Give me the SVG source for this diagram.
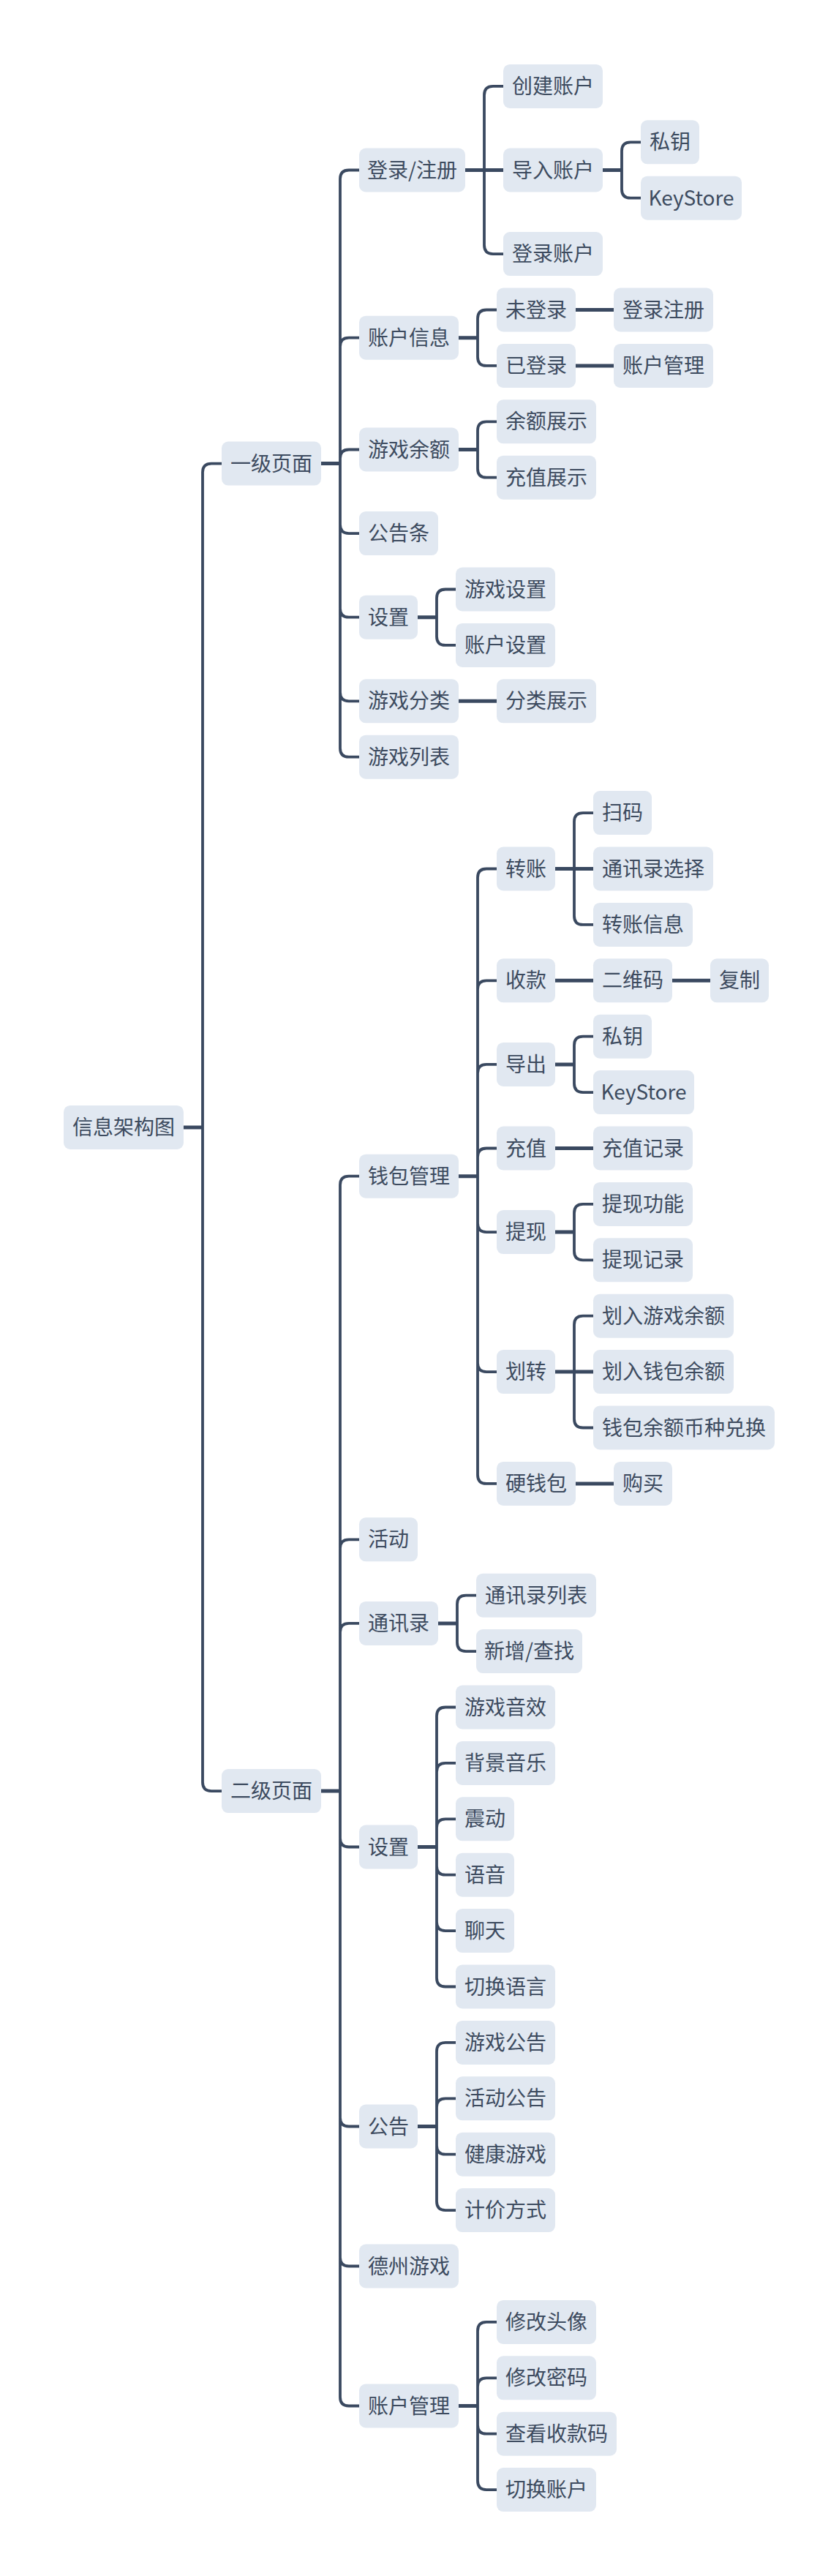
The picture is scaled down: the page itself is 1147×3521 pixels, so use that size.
<svg xmlns="http://www.w3.org/2000/svg" width="1147" height="3521" viewBox="0 0 1147 3521">
<style>
rect{fill:#e1e8f1;}
text{font-family:"Noto Sans CJK SC","Noto Sans",sans-serif;font-size:28px;fill:#3d4b5f;text-anchor:middle;}
.c{fill:none;stroke:#3a4960;stroke-width:3.8;stroke-linecap:butt;}
.s{fill:none;stroke:#3a4960;stroke-width:5;}
</style>
<rect x="0" y="0" width="1147" height="3521" style="fill:#ffffff"/>
<g id="connectors">
<path class="s" d="M251,1540.9H277M439,633.6H465M636,232.5H662M662,232.5H688M824,232.5H850M627,461.7H653M787,423.5H839M787,499.9H839M627,614.5H653M571,843.7H597M627,958.3H679M439,2448.1H465M627,1607.7H653M759,1187.5H785M785,1187.5H811M759,1340.3H811M919,1340.3H971M759,1454.9H785M759,1569.5H811M759,1684.1H785M759,1875.1H785M785,1875.1H811M787,2027.9H839M599,2218.9H625M571,2524.5H597M571,2906.5H597M627,3288.5H653"/>
<path class="c" d="M277,1540.9V645.6Q277,633.6 289,633.6H303M277,1540.9V2436.1Q277,2448.1 289,2448.1H303"/>
<path class="c" d="M465,633.6V244.5Q465,232.5 477,232.5H491M465,633.6V473.7Q465,461.7 477,461.7H491M465,633.6V626.5Q465,614.5 477,614.5H491M465,633.6V717.1Q465,729.1 477,729.1H491M465,633.6V831.7Q465,843.7 477,843.7H491M465,633.6V946.3Q465,958.3 477,958.3H491M465,633.6V1022.7Q465,1034.7 477,1034.7H491"/>
<path class="c" d="M662,232.5V129.9Q662,117.9 674,117.9H688M662,232.5V335.1Q662,347.1 674,347.1H688"/>
<path class="c" d="M850,232.5V206.3Q850,194.3 862,194.3H876M850,232.5V258.7Q850,270.7 862,270.7H876"/>
<path class="c" d="M653,461.7V435.5Q653,423.5 665,423.5H679M653,461.7V487.9Q653,499.9 665,499.9H679"/>
<path class="c" d="M653,614.5V588.3Q653,576.3 665,576.3H679M653,614.5V640.7Q653,652.7 665,652.7H679"/>
<path class="c" d="M597,843.7V817.5Q597,805.5 609,805.5H623M597,843.7V869.9Q597,881.9 609,881.9H623"/>
<path class="c" d="M465,2448.1V1619.7Q465,1607.7 477,1607.7H491M465,2448.1V2116.3Q465,2104.3 477,2104.3H491M465,2448.1V2230.9Q465,2218.9 477,2218.9H491M465,2448.1V2512.5Q465,2524.5 477,2524.5H491M465,2448.1V2894.5Q465,2906.5 477,2906.5H491M465,2448.1V3085.5Q465,3097.5 477,3097.5H491M465,2448.1V3276.5Q465,3288.5 477,3288.5H491"/>
<path class="c" d="M653,1607.7V1199.5Q653,1187.5 665,1187.5H679M653,1607.7V1352.3Q653,1340.3 665,1340.3H679M653,1607.7V1466.9Q653,1454.9 665,1454.9H679M653,1607.7V1581.5Q653,1569.5 665,1569.5H679M653,1607.7V1672.1Q653,1684.1 665,1684.1H679M653,1607.7V1863.1Q653,1875.1 665,1875.1H679M653,1607.7V2015.9Q653,2027.9 665,2027.9H679"/>
<path class="c" d="M785,1187.5V1123.1Q785,1111.1 797,1111.1H811M785,1187.5V1251.9Q785,1263.9 797,1263.9H811"/>
<path class="c" d="M785,1454.9V1428.7Q785,1416.7 797,1416.7H811M785,1454.9V1481.1Q785,1493.1 797,1493.1H811"/>
<path class="c" d="M785,1684.1V1657.9Q785,1645.9 797,1645.9H811M785,1684.1V1710.3Q785,1722.3 797,1722.3H811"/>
<path class="c" d="M785,1875.1V1810.7Q785,1798.7 797,1798.7H811M785,1875.1V1939.5Q785,1951.5 797,1951.5H811"/>
<path class="c" d="M625,2218.9V2192.7Q625,2180.7 637,2180.7H651M625,2218.9V2245.1Q625,2257.1 637,2257.1H651"/>
<path class="c" d="M597,2524.5V2345.5Q597,2333.5 609,2333.5H623M597,2524.5V2421.9Q597,2409.9 609,2409.9H623M597,2524.5V2498.3Q597,2486.3 609,2486.3H623M597,2524.5V2550.7Q597,2562.7 609,2562.7H623M597,2524.5V2627.1Q597,2639.1 609,2639.1H623M597,2524.5V2703.5Q597,2715.5 609,2715.5H623"/>
<path class="c" d="M597,2906.5V2803.9Q597,2791.9 609,2791.9H623M597,2906.5V2880.3Q597,2868.3 609,2868.3H623M597,2906.5V2932.7Q597,2944.7 609,2944.7H623M597,2906.5V3009.1Q597,3021.1 609,3021.1H623"/>
<path class="c" d="M653,3288.5V3185.9Q653,3173.9 665,3173.9H679M653,3288.5V3262.3Q653,3250.3 665,3250.3H679M653,3288.5V3314.7Q653,3326.7 665,3326.7H679M653,3288.5V3391.1Q653,3403.1 665,3403.1H679"/>
</g>
<g id="root"><rect x="87" y="1510.9" width="164" height="60" rx="9"/><text x="169" y="1550.9">信息架构图</text></g>
<g id="l1a"><rect x="303" y="603.6" width="136" height="60" rx="9"/><text x="371" y="643.6">一级页面</text></g>
<g id="l1b"><rect x="303" y="2418.1" width="136" height="60" rx="9"/><text x="371" y="2458.1">二级页面</text></g>
<g id="a1"><rect x="491" y="202.5" width="145" height="60" rx="9"/><text x="563.5" y="242.5">登录/注册</text></g>
<g id="a1-1"><rect x="688" y="87.9" width="136" height="60" rx="9"/><text x="756" y="127.9">创建账户</text></g>
<g id="a1-2"><rect x="688" y="202.5" width="136" height="60" rx="9"/><text x="756" y="242.5">导入账户</text></g>
<g id="a1-2-1"><rect x="876" y="164.3" width="80" height="60" rx="9"/><text x="916" y="204.3">私钥</text></g>
<g id="a1-2-2"><rect x="876" y="240.7" width="138" height="60" rx="9"/><text x="945" y="280.7">KeyStore</text></g>
<g id="a1-3"><rect x="688" y="317.1" width="136" height="60" rx="9"/><text x="756" y="357.1">登录账户</text></g>
<g id="a2"><rect x="491" y="431.7" width="136" height="60" rx="9"/><text x="559" y="471.7">账户信息</text></g>
<g id="a2-1"><rect x="679" y="393.5" width="108" height="60" rx="9"/><text x="733" y="433.5">未登录</text></g>
<g id="a2-1-1"><rect x="839" y="393.5" width="136" height="60" rx="9"/><text x="907" y="433.5">登录注册</text></g>
<g id="a2-2"><rect x="679" y="469.9" width="108" height="60" rx="9"/><text x="733" y="509.9">已登录</text></g>
<g id="a2-2-1"><rect x="839" y="469.9" width="136" height="60" rx="9"/><text x="907" y="509.9">账户管理</text></g>
<g id="a3"><rect x="491" y="584.5" width="136" height="60" rx="9"/><text x="559" y="624.5">游戏余额</text></g>
<g id="a3-1"><rect x="679" y="546.3" width="136" height="60" rx="9"/><text x="747" y="586.3">余额展示</text></g>
<g id="a3-2"><rect x="679" y="622.7" width="136" height="60" rx="9"/><text x="747" y="662.7">充值展示</text></g>
<g id="a4"><rect x="491" y="699.1" width="108" height="60" rx="9"/><text x="545" y="739.1">公告条</text></g>
<g id="a5"><rect x="491" y="813.7" width="80" height="60" rx="9"/><text x="531" y="853.7">设置</text></g>
<g id="a5-1"><rect x="623" y="775.5" width="136" height="60" rx="9"/><text x="691" y="815.5">游戏设置</text></g>
<g id="a5-2"><rect x="623" y="851.9" width="136" height="60" rx="9"/><text x="691" y="891.9">账户设置</text></g>
<g id="a6"><rect x="491" y="928.3" width="136" height="60" rx="9"/><text x="559" y="968.3">游戏分类</text></g>
<g id="a6-1"><rect x="679" y="928.3" width="136" height="60" rx="9"/><text x="747" y="968.3">分类展示</text></g>
<g id="a7"><rect x="491" y="1004.7" width="136" height="60" rx="9"/><text x="559" y="1044.7">游戏列表</text></g>
<g id="b1"><rect x="491" y="1577.7" width="136" height="60" rx="9"/><text x="559" y="1617.7">钱包管理</text></g>
<g id="b1-1"><rect x="679" y="1157.5" width="80" height="60" rx="9"/><text x="719" y="1197.5">转账</text></g>
<g id="b1-1-1"><rect x="811" y="1081.1" width="80" height="60" rx="9"/><text x="851" y="1121.1">扫码</text></g>
<g id="b1-1-2"><rect x="811" y="1157.5" width="164" height="60" rx="9"/><text x="893" y="1197.5">通讯录选择</text></g>
<g id="b1-1-3"><rect x="811" y="1233.9" width="136" height="60" rx="9"/><text x="879" y="1273.9">转账信息</text></g>
<g id="b1-2"><rect x="679" y="1310.3" width="80" height="60" rx="9"/><text x="719" y="1350.3">收款</text></g>
<g id="b1-2-1"><rect x="811" y="1310.3" width="108" height="60" rx="9"/><text x="865" y="1350.3">二维码</text></g>
<g id="b1-2-1-1"><rect x="971" y="1310.3" width="80" height="60" rx="9"/><text x="1011" y="1350.3">复制</text></g>
<g id="b1-3"><rect x="679" y="1424.9" width="80" height="60" rx="9"/><text x="719" y="1464.9">导出</text></g>
<g id="b1-3-1"><rect x="811" y="1386.7" width="80" height="60" rx="9"/><text x="851" y="1426.7">私钥</text></g>
<g id="b1-3-2"><rect x="811" y="1463.1" width="138" height="60" rx="9"/><text x="880" y="1503.1">KeyStore</text></g>
<g id="b1-4"><rect x="679" y="1539.5" width="80" height="60" rx="9"/><text x="719" y="1579.5">充值</text></g>
<g id="b1-4-1"><rect x="811" y="1539.5" width="136" height="60" rx="9"/><text x="879" y="1579.5">充值记录</text></g>
<g id="b1-5"><rect x="679" y="1654.1" width="80" height="60" rx="9"/><text x="719" y="1694.1">提现</text></g>
<g id="b1-5-1"><rect x="811" y="1615.9" width="136" height="60" rx="9"/><text x="879" y="1655.9">提现功能</text></g>
<g id="b1-5-2"><rect x="811" y="1692.3" width="136" height="60" rx="9"/><text x="879" y="1732.3">提现记录</text></g>
<g id="b1-6"><rect x="679" y="1845.1" width="80" height="60" rx="9"/><text x="719" y="1885.1">划转</text></g>
<g id="b1-6-1"><rect x="811" y="1768.7" width="192" height="60" rx="9"/><text x="907" y="1808.7">划入游戏余额</text></g>
<g id="b1-6-2"><rect x="811" y="1845.1" width="192" height="60" rx="9"/><text x="907" y="1885.1">划入钱包余额</text></g>
<g id="b1-6-3"><rect x="811" y="1921.5" width="248" height="60" rx="9"/><text x="935" y="1961.5">钱包余额币种兑换</text></g>
<g id="b1-7"><rect x="679" y="1997.9" width="108" height="60" rx="9"/><text x="733" y="2037.9">硬钱包</text></g>
<g id="b1-7-1"><rect x="839" y="1997.9" width="80" height="60" rx="9"/><text x="879" y="2037.9">购买</text></g>
<g id="b2"><rect x="491" y="2074.3" width="80" height="60" rx="9"/><text x="531" y="2114.3">活动</text></g>
<g id="b3"><rect x="491" y="2188.9" width="108" height="60" rx="9"/><text x="545" y="2228.9">通讯录</text></g>
<g id="b3-1"><rect x="651" y="2150.7" width="164" height="60" rx="9"/><text x="733" y="2190.7">通讯录列表</text></g>
<g id="b3-2"><rect x="651" y="2227.1" width="145" height="60" rx="9"/><text x="723.5" y="2267.1">新增/查找</text></g>
<g id="b4"><rect x="491" y="2494.5" width="80" height="60" rx="9"/><text x="531" y="2534.5">设置</text></g>
<g id="b4-1"><rect x="623" y="2303.5" width="136" height="60" rx="9"/><text x="691" y="2343.5">游戏音效</text></g>
<g id="b4-2"><rect x="623" y="2379.9" width="136" height="60" rx="9"/><text x="691" y="2419.9">背景音乐</text></g>
<g id="b4-3"><rect x="623" y="2456.3" width="80" height="60" rx="9"/><text x="663" y="2496.3">震动</text></g>
<g id="b4-4"><rect x="623" y="2532.7" width="80" height="60" rx="9"/><text x="663" y="2572.7">语音</text></g>
<g id="b4-5"><rect x="623" y="2609.1" width="80" height="60" rx="9"/><text x="663" y="2649.1">聊天</text></g>
<g id="b4-6"><rect x="623" y="2685.5" width="136" height="60" rx="9"/><text x="691" y="2725.5">切换语言</text></g>
<g id="b5"><rect x="491" y="2876.5" width="80" height="60" rx="9"/><text x="531" y="2916.5">公告</text></g>
<g id="b5-1"><rect x="623" y="2761.9" width="136" height="60" rx="9"/><text x="691" y="2801.9">游戏公告</text></g>
<g id="b5-2"><rect x="623" y="2838.3" width="136" height="60" rx="9"/><text x="691" y="2878.3">活动公告</text></g>
<g id="b5-3"><rect x="623" y="2914.7" width="136" height="60" rx="9"/><text x="691" y="2954.7">健康游戏</text></g>
<g id="b5-4"><rect x="623" y="2991.1" width="136" height="60" rx="9"/><text x="691" y="3031.1">计价方式</text></g>
<g id="b6"><rect x="491" y="3067.5" width="136" height="60" rx="9"/><text x="559" y="3107.5">德州游戏</text></g>
<g id="b7"><rect x="491" y="3258.5" width="136" height="60" rx="9"/><text x="559" y="3298.5">账户管理</text></g>
<g id="b7-1"><rect x="679" y="3143.9" width="136" height="60" rx="9"/><text x="747" y="3183.9">修改头像</text></g>
<g id="b7-2"><rect x="679" y="3220.3" width="136" height="60" rx="9"/><text x="747" y="3260.3">修改密码</text></g>
<g id="b7-3"><rect x="679" y="3296.7" width="164" height="60" rx="9"/><text x="761" y="3336.7">查看收款码</text></g>
<g id="b7-4"><rect x="679" y="3373.1" width="136" height="60" rx="9"/><text x="747" y="3413.1">切换账户</text></g>
</svg>
